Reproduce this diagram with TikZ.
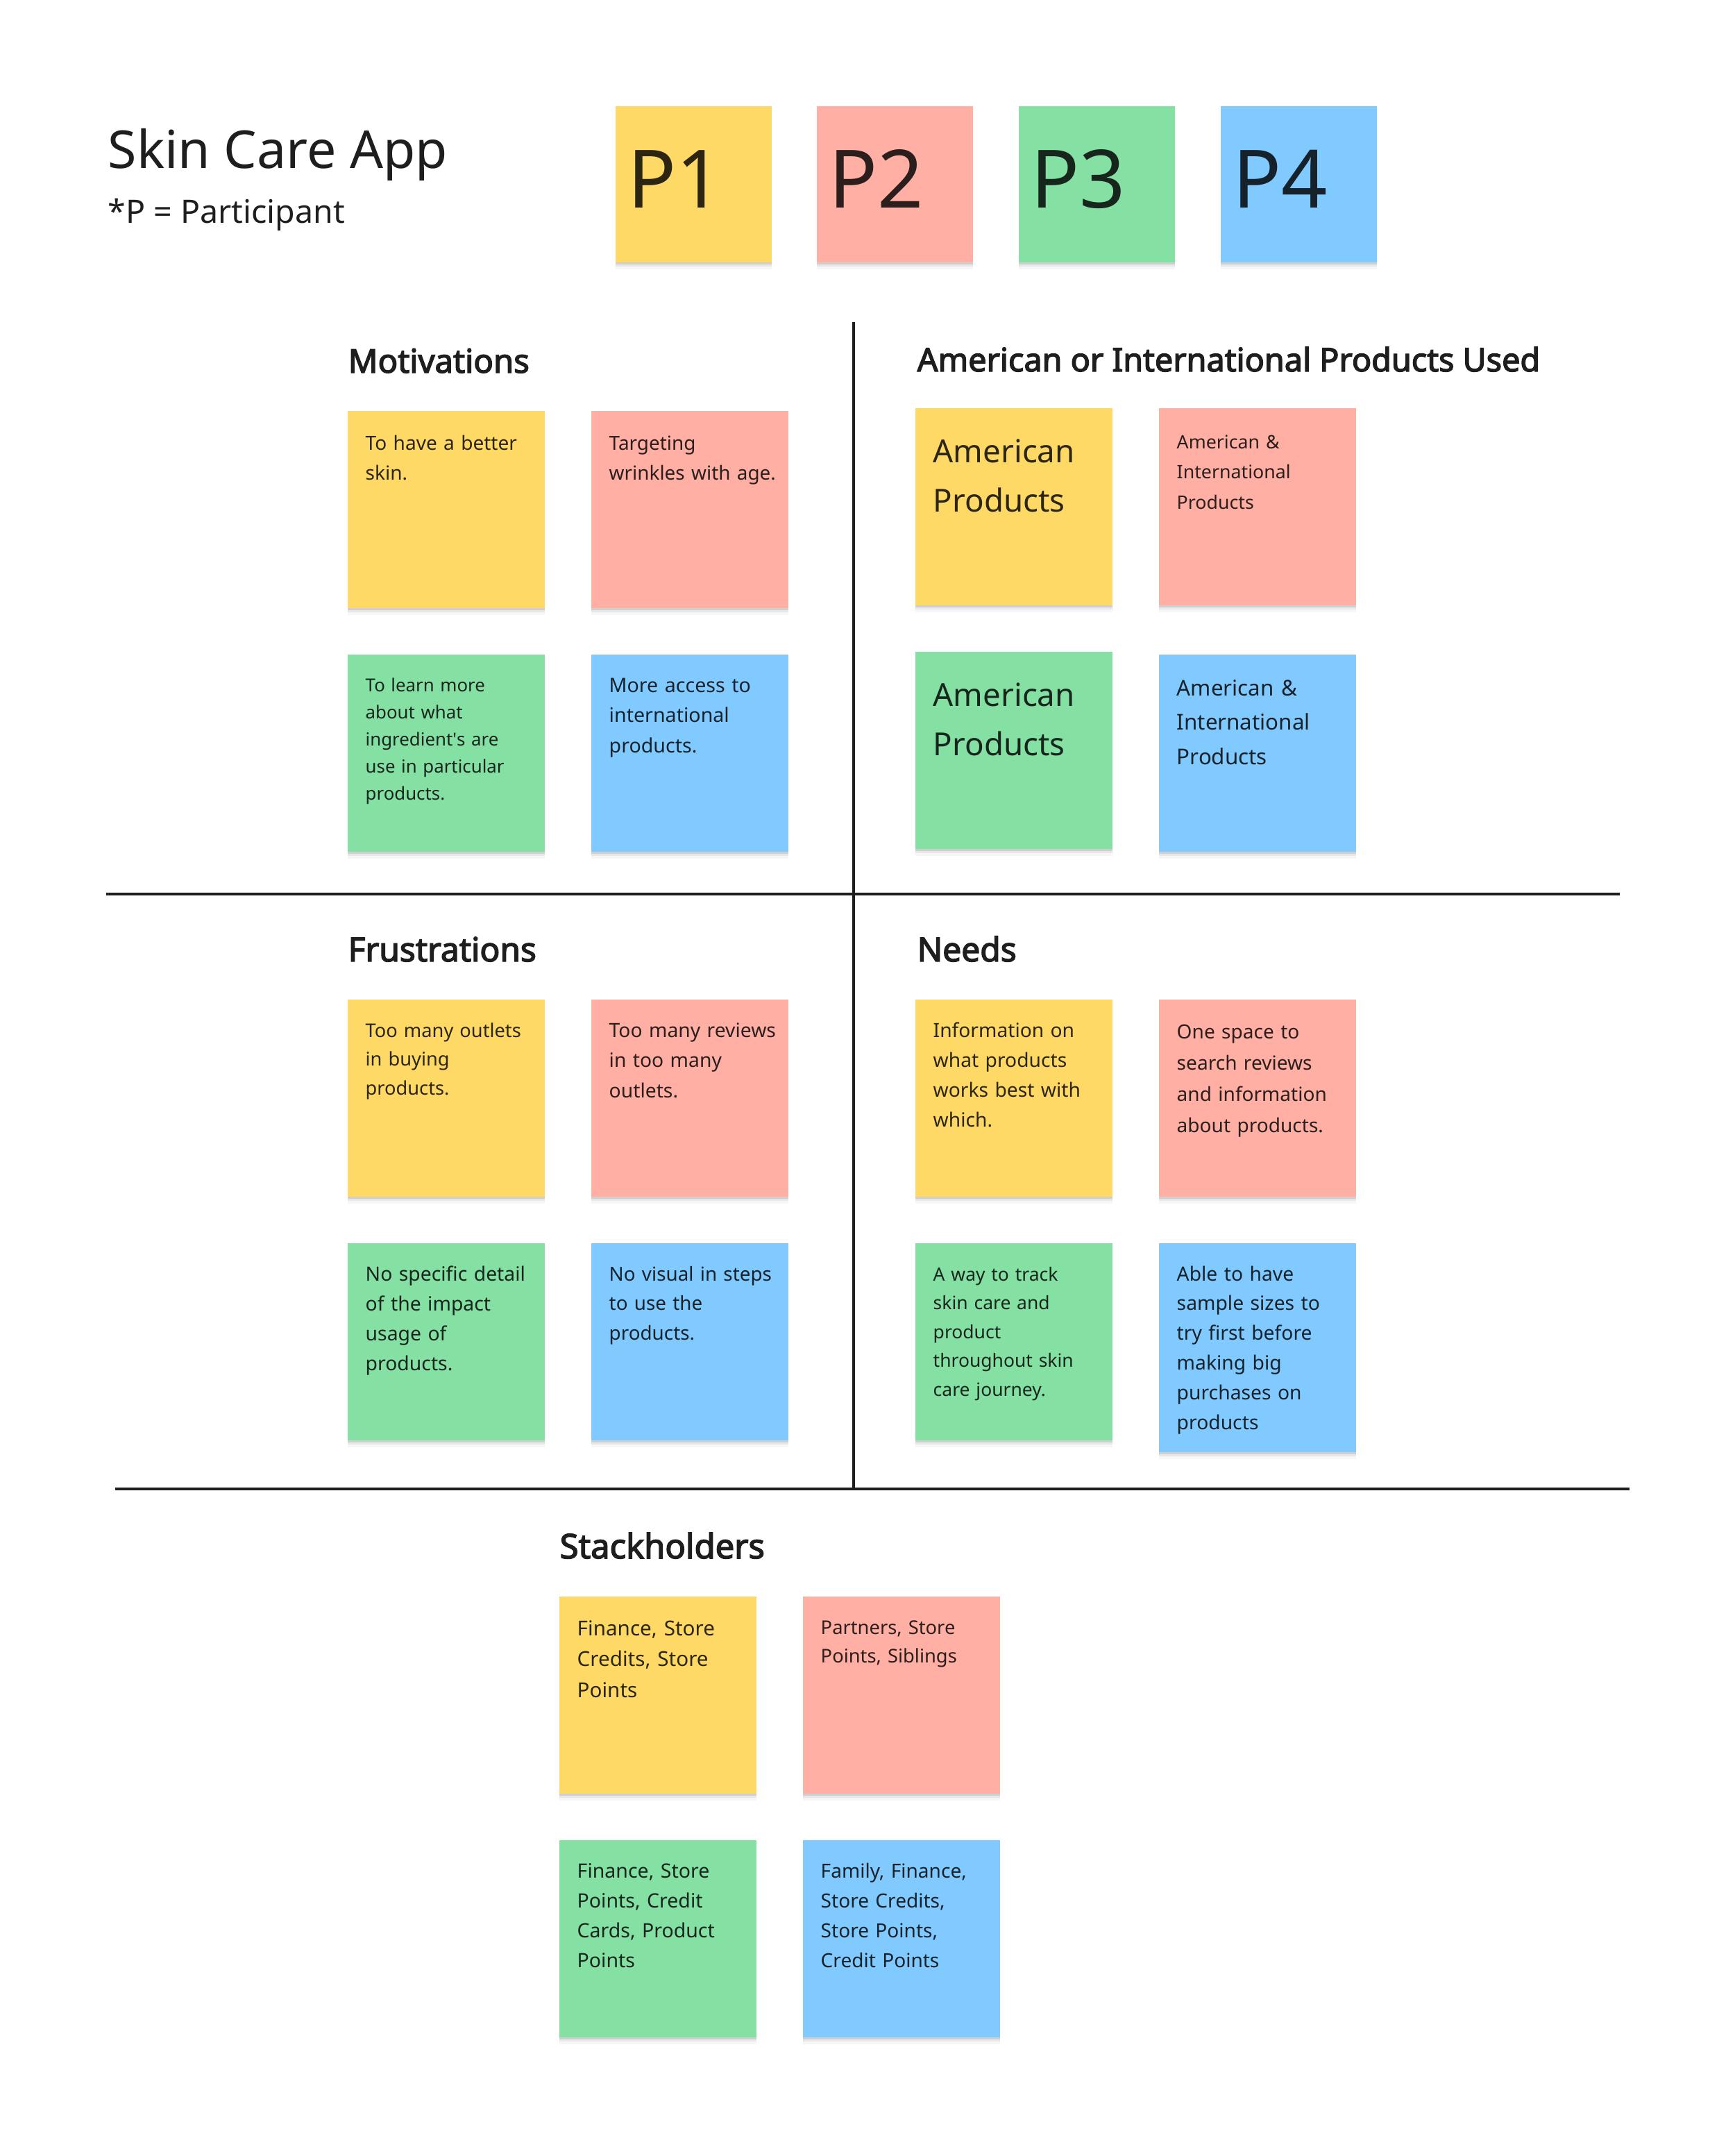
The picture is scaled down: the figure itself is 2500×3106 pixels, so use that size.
\documentclass[tikz,border=0pt]{standalone}
\usepackage{fontspec}
\setmainfont{Noto Sans}
\newfontfamily\headfont{Noto Sans}[FakeBold=3]
\newfontfamily\plainquote{Noto Sans}
\usetikzlibrary{shadows}
\definecolor{yel}{HTML}{FFD966}
\definecolor{pnk}{HTML}{FFAFA3}
\definecolor{grn}{HTML}{85E0A3}
\definecolor{blu}{HTML}{80CAFF}
\definecolor{ink}{HTML}{1E1E1E}
\newlength\fitlen
% #1 target width (px), #2 leading (px), #3 reference line
\newcommand\fitfont[3]{\settowidth\fitlen{\fontsize{10pt}{12pt}\selectfont #3}%
  \pgfmathsetmacro\fitfs{2.8453*#1/\fitlen}%
  \pgfmathsetmacro\fitld{0.28453*#2}%
  \fontsize{\fitfs pt}{\fitld pt}\selectfont}
\begin{document}
\begin{tikzpicture}[x=0.01cm, y=-0.01cm,
  shad/.style={
    drop shadow={shadow xshift=0cm, shadow yshift=-0.025cm, opacity=0.10, fill=black},
    drop shadow={shadow xshift=0cm, shadow yshift=-0.06cm, opacity=0.06, fill=black},
    drop shadow={shadow xshift=0cm, shadow yshift=-0.10cm, opacity=0.035, fill=black}},
  sticky/.style={shad, draw=none, inner sep=0pt, outer sep=0pt, anchor=north west,
    minimum width=2.84cm, minimum height=2.84cm},
  pbox/.style={shad, draw=none, inner sep=0pt, outer sep=0pt, anchor=north west,
    minimum width=2.25cm, minimum height=2.25cm},
  notetext/.style={anchor=base west, inner sep=0pt, text width=3cm},
  plain/.style={anchor=base west, inner sep=0pt, text=ink},
  plabel/.style={anchor=base west, inner sep=0pt, font={\fontsize{33pt}{40pt}\selectfont}},
  heading/.style={anchor=base west, inner sep=0pt, text=ink},
  tyel/.style={text=yel!17!black},
  tpnk/.style={text=pnk!17!black},
  tgrn/.style={text=grn!17!black},
  tblu/.style={text=blu!17!black},
  rule/.style={draw=ink, line width=0.9pt}]
\useasboundingbox (0,0) rectangle (2500,3106);
\fill[white] (0,0) rectangle (2500,3106);

% title
\node[plain, font={\fitfont{489}{100}{Skin Care App}}] (title) at (155,242) {Skin Care App};
\node[plain, font={\fitfont{341}{60}{*P = Participant}}] (subtitle) at (155,321) {*P = Participant};

% participant boxes
\node[pbox, fill=yel] (p1) at (887,153) {};
\node[pbox, fill=pnk] (p2) at (1177,153) {};
\node[pbox, fill=grn] (p3) at (1468,153) {};
\node[pbox, fill=blu] (p4) at (1759,153) {};
\node[plabel, tyel] (p1t) at ([xshift=0.17cm, yshift=-1.46cm]p1.north west) {P1};
\node[plabel, tpnk] (p2t) at ([xshift=0.17cm, yshift=-1.46cm]p2.north west) {P2};
\node[plabel, tgrn] (p3t) at ([xshift=0.17cm, yshift=-1.46cm]p3.north west) {P3};
\node[plabel, tblu] (p4t) at ([xshift=0.17cm, yshift=-1.46cm]p4.north west) {P4};

% dividing lines
\draw[rule] (1230,464) -- (1230,2147);
\draw[rule] (153,1288) -- (2334,1288);
\draw[rule] (166,2145) -- (2348,2145);

% headings
\node[heading, font={\headfont\fitfont{261}{60}{Motivations}}] (hmot) at (501,537) {Motivations};
\node[heading, font={\headfont\fitfont{897}{60}{American or International Products Used}}] (hame) at (1321,535) {American or International Products Used};
\node[heading, font={\headfont\fitfont{271}{60}{Frustrations}}] (hfru) at (501,1385) {Frustrations};
\node[heading, font={\headfont\fitfont{143}{60}{Needs}}] (hnee) at (1321,1385) {Needs};
\node[heading, font={\headfont\fitfont{295}{60}{Stackholders}}] (hsta) at (806,2245) {Stackholders};

% Motivations
\node[sticky, fill=yel] (m1) at (501,592) {};
\node[sticky, fill=pnk] (m2) at (852,592) {};
\node[sticky, fill=grn] (m3) at (501,943) {};
\node[sticky, fill=blu] (m4) at (852,943) {};
\node[notetext, tyel, font={\fitfont{212}{43.6}{To have a better}}] (m1t) at ([xshift=0.25cm, yshift=-0.56cm]m1.north west) {To have a better\\skin.};
\node[notetext, tpnk, font={\fitfont{236}{43.6}{wrinkles with age.}}] (m2t) at ([xshift=0.25cm, yshift=-0.56cm]m2.north west) {Targeting\\wrinkles with age.};
\node[notetext, tgrn, font={\fitfont{196}{39}{use in particular}}] (m3t) at ([xshift=0.25cm, yshift=-0.53cm]m3.north west) {To learn more\\about what\\ingredient{\plainquote'}s are\\use in particular\\products.};
\node[notetext, tblu, font={\fitfont{200}{43.6}{More access to}}] (m4t) at ([xshift=0.25cm, yshift=-0.54cm]m4.north west) {More access to\\international\\products.};

% American or International
\node[sticky, fill=yel] (a1) at (1319,588) {};
\node[sticky, fill=pnk] (a2) at (1670,588) {};
\node[sticky, fill=grn] (a3) at (1319,939) {};
\node[sticky, fill=blu] (a4) at (1670,943) {};
\node[notetext, tyel, font={\fitfont{204}{71}{American}}] (a1t) at ([xshift=0.25cm, yshift=-0.78cm]a1.north west) {American\\Products};
\node[notetext, tpnk, font={\fitfont{164}{43.5}{International}}] (a2t) at ([xshift=0.25cm, yshift=-0.58cm]a2.north west) {American \&\\International\\Products};
\node[notetext, tgrn, font={\fitfont{204}{71}{American}}] (a3t) at ([xshift=0.25cm, yshift=-0.78cm]a3.north west) {American\\Products};
\node[notetext, tblu, font={\fitfont{192}{49.5}{International}}] (a4t) at ([xshift=0.25cm, yshift=-0.59cm]a4.north west) {American \&\\International\\Products};

% Frustrations
\node[sticky, fill=yel] (f1) at (501,1440) {};
\node[sticky, fill=pnk] (f2) at (852,1440) {};
\node[sticky, fill=grn] (f3) at (501,1791) {};
\node[sticky, fill=blu] (f4) at (852,1791) {};
\node[notetext, tyel, font={\fitfont{220}{41.6}{Too many outlets}}] (f1t) at ([xshift=0.25cm, yshift=-0.54cm]f1.north west) {Too many outlets\\in buying\\products.};
\node[notetext, tpnk, font={\fitfont{236}{43.6}{Too many reviews}}] (f2t) at ([xshift=0.25cm, yshift=-0.54cm]f2.north west) {Too many reviews\\in too many\\outlets.};
\node[notetext, tgrn, font={\fitfont{226}{43}{No specific detail}}] (f3t) at ([xshift=0.25cm, yshift=-0.54cm]f3.north west) {No specific detail\\of the impact\\usage of\\products.};
\node[notetext, tblu, font={\fitfont{228}{42.6}{No visual in steps}}] (f4t) at ([xshift=0.25cm, yshift=-0.54cm]f4.north west) {No visual in steps\\to use the\\products.};

% Needs
\node[sticky, fill=yel] (n1) at (1319,1440) {};
\node[sticky, fill=pnk] (n2) at (1670,1440) {};
\node[sticky, fill=grn] (n3) at (1319,1791) {};
\node[sticky, fill=blu, minimum height=3.01cm] (n4) at (1670,1791) {};
\node[notetext, tyel, font={\fitfont{208}{43}{works best with}}] (n1t) at ([xshift=0.25cm, yshift=-0.54cm]n1.north west) {Information on\\what products\\works best with\\which.};
\node[notetext, tpnk, font={\fitfont{214}{45}{and information}}] (n2t) at ([xshift=0.25cm, yshift=-0.56cm]n2.north west) {One space to\\search reviews\\and information\\about products.};
\node[notetext, tgrn, font={\fitfont{200}{41.6}{throughout skin}}] (n3t) at ([xshift=0.25cm, yshift=-0.54cm]n3.north west) {A way to track\\skin care and\\product\\throughout skin\\care journey.};
\node[notetext, tblu, font={\fitfont{202}{42.8}{sample sizes to}}] (n4t) at ([xshift=0.25cm, yshift=-0.54cm]n4.north west) {Able to have\\sample sizes to\\try first before\\making big\\purchases on\\products};

% Stakeholders
\node[sticky, fill=yel] (s1) at (806,2300) {};
\node[sticky, fill=pnk] (s2) at (1157,2300) {};
\node[sticky, fill=grn] (s3) at (806,2651) {};
\node[sticky, fill=blu] (s4) at (1157,2651) {};
\node[notetext, tyel, font={\fitfont{196}{44.6}{Finance, Store}}] (s1t) at ([xshift=0.25cm, yshift=-0.56cm]s1.north west) {Finance, Store\\Credits, Store\\Points};
\node[notetext, tpnk, font={\fitfont{194}{41.6}{Points, Siblings}}] (s2t) at ([xshift=0.25cm, yshift=-0.54cm]s2.north west) {Partners, Store\\Points, Siblings};
\node[notetext, tgrn, font={\fitfont{196}{43}{Cards, Product}}] (s3t) at ([xshift=0.25cm, yshift=-0.54cm]s3.north west) {Finance, Store\\Points, Credit\\Cards, Product\\Points};
\node[notetext, tblu, font={\fitfont{208}{43}{Family, Finance,}}] (s4t) at ([xshift=0.25cm, yshift=-0.54cm]s4.north west) {Family, Finance,\\Store Credits,\\Store Points,\\Credit Points};
\end{tikzpicture}
\end{document}
